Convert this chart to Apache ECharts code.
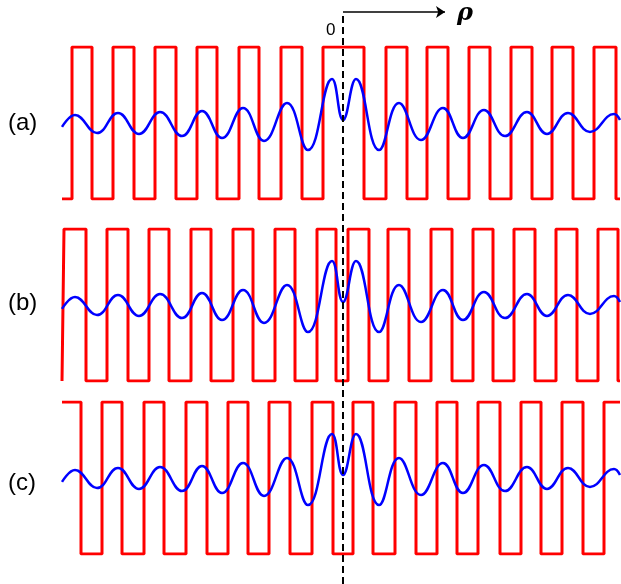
<!DOCTYPE html>
<html><head><meta charset="utf-8">
<script src="https://cdn.jsdelivr.net/npm/echarts@6/dist/echarts.min.js"></script>
<style>html,body{margin:0;padding:0;background:#fff}#c{width:621px;height:584px}</style>
</head><body><div id="c"></div>
<script>
// rho positions in units (pixel offset from origin / 10)
const panelLabels = ['(a)', '(b)', '(c)'];
// square-wave transitions (rho) and starting level
const edgesA = [-27.1,-25.1,-23.0,-20.9,-18.8,-16.7,-14.6,-12.6,-10.4,-8.4,-6.2,-4.1,-2.0,2.1,4.3,6.4,8.4,10.5,12.6,14.7,16.8,18.9,20.9,23.0,25.1,27.3];
const edgesB = [-27.9,-25.7,-23.6,-21.5,-19.4,-17.4,-15.2,-13.2,-11.0,-9.0,-6.8,-4.8,-2.6,-0.7,0.5,2.6,4.5,6.6,8.8,10.9,13.0,15.0,17.1,19.2,21.3,23.4,25.5,27.5];
const edgesC = [-26.2,-24.1,-22.1,-19.9,-17.9,-15.7,-13.6,-11.5,-9.5,-7.4,-5.3,-3.1,-1.0,1.0,3.0,5.2,7.3,9.4,11.4,13.5,15.7,17.8,19.8,21.9,24.0,26.1];
const startLevels = [0, 0, 1];
// blue field profile (rho, relative level)
const blueX = [-28.1,-26.8,-24.6,-22.5,-20.4,-18.3,-16.1,-14.1,-12.1,-10.0,-7.9,-5.6,-3.5,-1.1,0,1.3,3.6,5.6,7.8,10.0,12.0,14.1,16.2,18.4,20.4,22.5,24.7,27.1,27.7];
const blueY = [0.474,0.553,0.434,0.566,0.428,0.572,0.414,0.579,0.401,0.599,0.382,0.632,0.322,0.789,0.52,0.789,0.322,0.632,0.388,0.599,0.401,0.586,0.414,0.572,0.428,0.566,0.441,0.559,0.52];

const XMIN = -28.1, XMAX = 27.7;
function square(edges, start){
  const pts = [[XMIN, start]]; let lv = start;
  edges.forEach(e => { pts.push([e, lv]); lv = 1 - lv; pts.push([e, lv]); });
  pts.push([XMAX, lv]); return pts;
}
const blue = blueX.map((x,i)=>[x, blueY[i]]);
const tops = [47, 229, 402];
const grids = tops.map(t => ({left:62, width:558, top:t, height:152}));
grids.push({left:62, width:558, top:12, height:572});
const xAxis = grids.map((g,i)=>({gridIndex:i, type:'value', min:XMIN, max:XMAX, show:false}));
const yAxis = grids.map((g,i)=>({gridIndex:i, type:'value', min:0, max:1, show:false}));
const edges = [edgesA, edgesB, edgesC];
const series = [];
for (let i=0;i<3;i++){
  series.push({type:'line', xAxisIndex:i, yAxisIndex:i, data:square(edges[i], startLevels[i]), symbol:'none', lineStyle:{color:'#ff0000', width:3}, z:2});
  series.push({type:'line', xAxisIndex:i, yAxisIndex:i, data:blue, smooth:0.45, symbol:'none', lineStyle:{color:'#0000ff', width:2.5}, z:3});
}
series.push({type:'line', xAxisIndex:3, yAxisIndex:3, data:[[0,0],[0,1]], symbol:'none', lineStyle:{color:'#000', width:2, type:[7,4]}, z:5,
  markLine:{silent:true, symbol:['none','arrow'], symbolSize:9, label:{show:false}, lineStyle:{color:'#000', width:1.5, type:'solid'},
    data:[[{coord:[0,1]},{coord:[10.2,1]}]]}});
const chart = echarts.init(document.getElementById('c'));
chart.setOption({
  animation:false,
  grid:grids, xAxis, yAxis, series,
  graphic:[
    ...panelLabels.map((t,i)=>({type:'text', left:8, top:[111,291,471][i], style:{text:t, font:'24px "Liberation Sans", Arial', fill:'#000'}})),
    {type:'text', left:326, top:22, style:{text:'0', font:'17px "Liberation Sans", Arial', fill:'#000'}},
    {type:'text', left:457, top:2, style:{text:'ρ', font:'italic bold 24px "DejaVu Serif", serif', fill:'#000'}}
  ]
});
</script></body></html>
